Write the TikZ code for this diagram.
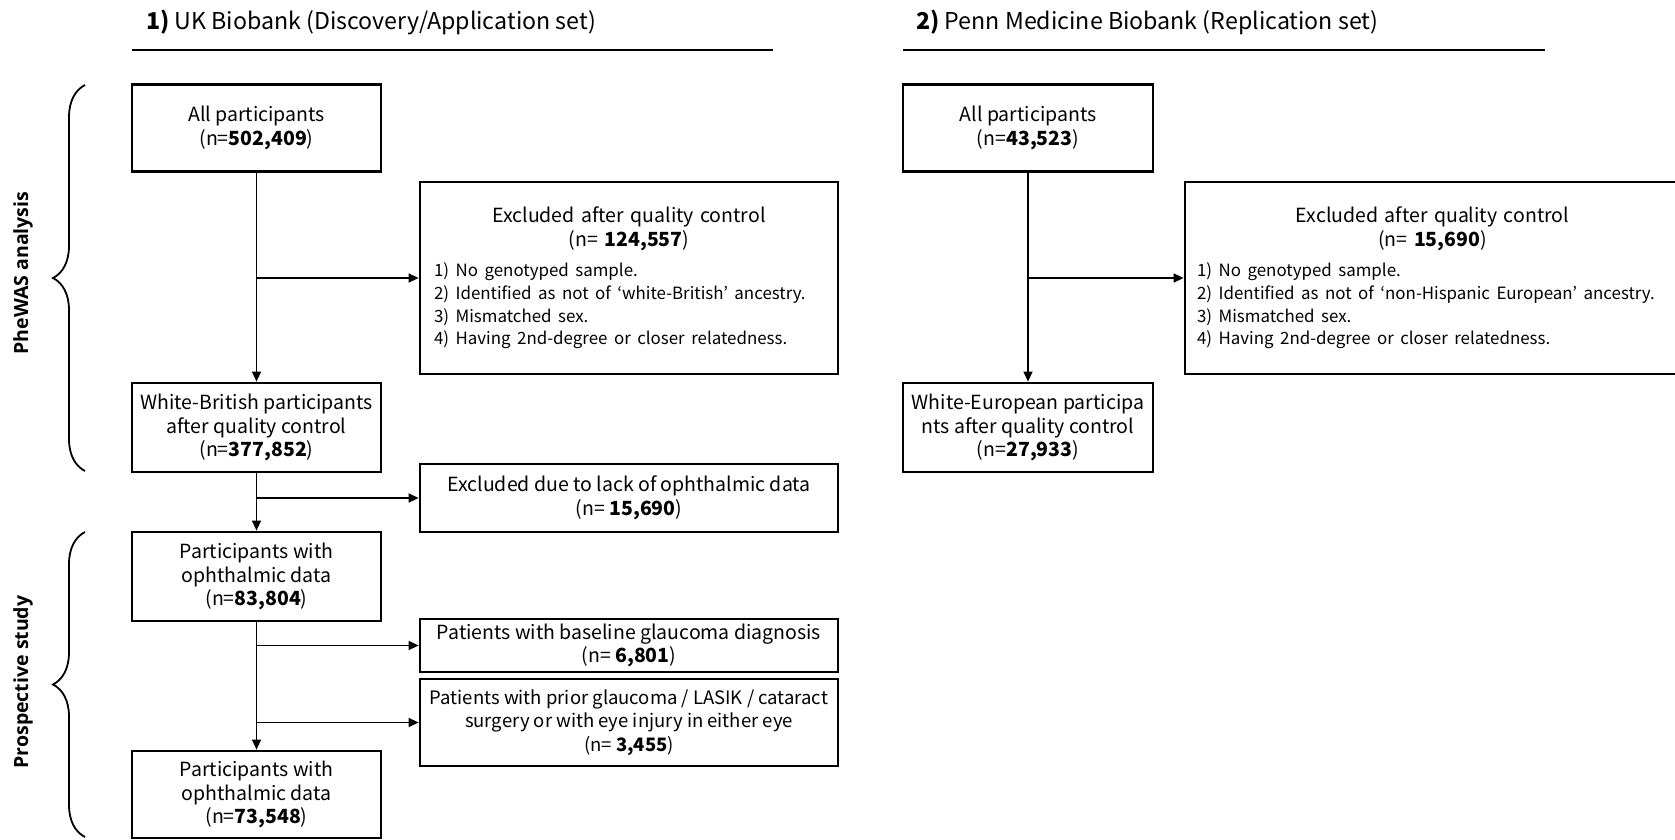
\documentclass[tikz,border=0pt]{standalone}
\usepackage{fontspec}
\setmainfont{Noto Sans CJK KR}
\newfontfamily\sidefont{Open Sans}
\usetikzlibrary{arrows.meta,decorations.pathreplacing}
\newcommand{\itemfont}{\fontsize{16.9}{22.7}\selectfont}
\tikzset{
  box/.style={draw=black, line width=2.8pt, inner sep=0pt, align=center,
    font=\fontsize{19.5}{23.5}\selectfont},
  listbox/.style={draw=black, line width=2.8pt, inner ysep=0pt,
    font=\fontsize{19.5}{24}\selectfont},
  arr/.style={line width=1.4pt, -{Triangle[length=10pt,width=9pt]}},
  rulex/.style={line width=2.6pt},
  sidelab/.style={rotate=90, font=\sidefont\bfseries\fontsize{19.5}{22}\selectfont},
  bracex/.style={line width=1.8pt, decorate, decoration={brace, amplitude=32pt}},
  titlex/.style={anchor=west, font=\fontsize{23.2}{27}\selectfont, inner sep=0pt}
}
\begin{document}
\begin{tikzpicture}[x=1pt,y=-1pt]
\useasboundingbox (0,0) rectangle (1675,840);
% titles
\node[titlex] (t1) at (146,22) {\textbf{1)} UK Biobank (Discovery/Application set)};
\node[titlex] (t2) at (916,22) {\textbf{2)} Penn Medicine Biobank (Replication set)};
\coordinate (r1a) at (132,50); \coordinate (r1b) at (773,50);
\coordinate (r2a) at (903,50); \coordinate (r2b) at (1545,50);
\draw[rulex] (r1a) -- (r1b);
\draw[rulex] (r2a) -- (r2b);
% braces and side labels
\coordinate (b1t) at (85,85); \coordinate (b1b) at (85,471);
\coordinate (b2t) at (85,532); \coordinate (b2b) at (85,837);
\draw[bracex] (b1b) -- (b1t);
\draw[bracex] (b2b) -- (b2t);
\node[sidelab] (s1) at (23,273) {PheWAS analysis};
\node[sidelab] (s2) at (23,682) {Prospective study};
% UK column
\node[box, minimum width=249pt, minimum height=87pt] (a1) at (256.5,128)
  {All participants\\(n=\textbf{502,409})};
\node[listbox, inner xsep=14pt, minimum width=418pt, minimum height=192pt, text width=390pt] (ex1) at (629,278)
  {{\centering Excluded after quality control\\(n= \textbf{124,557})\par}\vspace{7.3pt}\raggedright\itemfont
   1) No genotyped sample.\\
   2) Identified as not of ‘white-British’ ancestry.\\
   3) Mismatched sex.\\
   4) Having 2nd-degree or closer relatedness.\par};
\node[box, minimum width=249pt, minimum height=89pt] (wb) at (256.5,427.5)
  {White-British participants\\after quality control\\(n=\textbf{377,852})};
\node[box, minimum width=418pt, minimum height=68pt] (exd) at (629,498)
  {Excluded due to lack of ophthalmic data\\(n= \textbf{15,690})};
\node[box, minimum width=249pt, minimum height=89pt] (p1) at (256.5,576.5)
  {Participants with\\ophthalmic data\\(n=\textbf{83,804})};
\node[box, minimum width=418pt, minimum height=53pt] (bg) at (629,645.5)
  {Patients with baseline glaucoma diagnosis\\(n= \textbf{6,801})};
\node[box, minimum width=418pt, minimum height=87pt, font=\fontsize{18.5}{23.5}\selectfont] (pr) at (629,722.5)
  {Patients with prior glaucoma / LASIK / cataract\\surgery or with eye injury in either eye\\(n= \textbf{3,455})};
\node[box, minimum width=249pt, minimum height=87pt] (p2) at (256.5,794.5)
  {Participants with\\ophthalmic data\\(n=\textbf{73,548})};
\draw[arr] (a1) -- (wb);
\draw[arr] (a1.south |- ex1.west) -- (ex1.west);
\draw[arr] (wb) -- (p1);
\draw[arr] (wb.south |- exd.west) -- (exd.west);
\draw[arr] (p1) -- (p2);
\draw[arr] (p1.south |- bg.west) -- (bg.west);
\draw[arr] (p1.south |- pr.west) -- (pr.west);
% Penn column
\node[box, minimum width=250pt, minimum height=87pt] (a2) at (1028,128)
  {All participants\\(n=\textbf{43,523})};
\node[listbox, inner xsep=12pt, minimum width=495pt, minimum height=192pt, text width=471pt] (ex2) at (1432.5,278)
  {{\centering Excluded after quality control\\(n= \textbf{15,690})\par}\vspace{7.3pt}\raggedright\itemfont
   1) No genotyped sample.\\
   2) Identified as not of ‘non-Hispanic European’ ancestry.\\
   3) Mismatched sex.\\
   4) Having 2nd-degree or closer relatedness.\par};
\node[box, minimum width=250pt, minimum height=89pt] (we) at (1028,427.5)
  {White-European participa\\nts after quality control\\(n=\textbf{27,933})};
\draw[arr] (a2) -- (we);
\draw[arr] (a2.south |- ex2.west) -- (ex2.west);
\end{tikzpicture}
\end{document}
